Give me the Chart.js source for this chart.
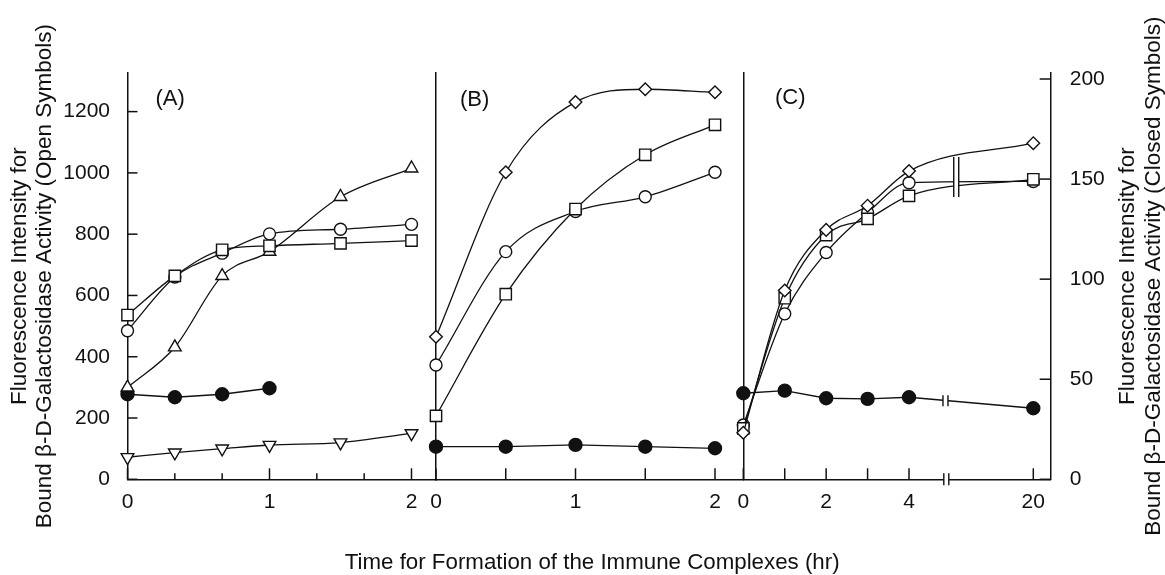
<!DOCTYPE html>
<html>
<head>
<meta charset="utf-8">
<title>Immune complex formation</title>
<script src="https://cdn.jsdelivr.net/npm/chart.js@4.4.1/dist/chart.umd.min.js"></script>
<style>
  body { margin: 0; background: #fff; }
  #wrap { position: relative; width: 1165px; height: 575px; }
  #wrap canvas { position: absolute; left: 0; top: 0; }
</style>
</head>
<body>
<div id="wrap">
  <canvas id="chartA" width="1165" height="575"></canvas>
  <canvas id="chartB" width="1165" height="575"></canvas>
  <canvas id="chartC" width="1165" height="575"></canvas>
</div>
<script>
// ---- data ----
// (A)
var hoursA = [0, 1/3, 2/3, 1, 1.5, 2];
var triangleA = [300, 431, 664, 743, 922, 1015];
var circleA = [485, 660, 738, 801, 816, 832];
var squareA = [536, 664, 749, 762, 770, 779];
var invTriangleA = [72, 87, 100, 112, 120, 150];
var closedHoursA = [0, 1/3, 2/3, 1];
var closedA = [42.5, 41, 42.5, 45.5];
// (B)
var hoursB = [0, 0.5, 1, 1.5, 2];
var diamondB = [465, 1002, 1231, 1273, 1263];
var squareB = [207, 604, 882, 1059, 1157];
var circleB = [373, 743, 874, 922, 1002];
var closedB = [16.3, 16.3, 17.2, 16.3, 15.5];
// (C)  - axis is broken between 4 and 20 hr
var hoursC = [0, 1, 2, 3, 4, 20];
var diamondC = [152, 616, 814, 893, 1006, 1097];
var squareC = [166, 591, 797, 850, 925, 979];
var circleC = [177, 540, 740, 870, 968, 972];
var closedC = [43, 44.3, 40.5, 40.2, 41, 35.5];

// ticks
var ticksA = [0, 1/3, 2/3, 1, 4/3, 5/3, 2];
var tickLabelsA = ['0', '', '', '1', '', '', '2'];
var ticksB = [0, 0.5, 1, 1.5, 2];
var tickLabelsB = ['0', '', '1', '', '2'];
var ticksC = [0, 1, 2, 3, 4, 20];
var tickLabelsC = ['0', '', '2', '', '4', '20'];
var leftTicks = [0, 200, 400, 600, 800, 1000, 1200];
var rightTicks = [0, 50, 100, 150, 200];

var leftTitle = ['Fluorescence Intensity for', 'Bound β-D-Galactosidase Activity (Open Symbols)'];
var rightTitle = ['Fluorescence Intensity for', 'Bound β-D-Galactosidase Activity (Closed Symbols)'];
var xTitle = 'Time for Formation of the Immune Complexes (hr)';

// ---- layout ----
var FONT = "'Liberation Sans', Arial, Helvetica, sans-serif";
Chart.defaults.font.family = FONT;
Chart.defaults.color = '#111';
var INK = '#111';
var TOP = 73, BOTTOM = 479.3, W = 1165, H = 575;
var A_LEFT = 127.5, B_LEFT = 436, C_LEFT = 743.3;
var LEFT_MAX = 1326, RIGHT_MAX = 203;

// broken axis for (C): 0-4 hr linear, 20 hr drawn at position 7
function cPos(h) { return h <= 4 ? h : 5 + (h - 4) / 8; }

var shapes = {
  circle:  { style: 'circle',   r: 6,   fill: '#fff' },
  square:  { style: 'rect',     r: 8,   fill: '#fff' },
  diamond: { style: 'rectRot',  r: 6.3, fill: '#fff' },
  up:      { style: 'triangle', r: 7.3, fill: '#fff' },
  down:    { style: 'triangle', r: 7.3, fill: '#fff', rot: 180 },
  closed:  { style: 'circle',   r: 6.5, fill: INK }
};

function series(xs, ys, shape, axisId) {
  var s = shapes[shape];
  return {
    data: ys.map(function(y, i) { return { x: xs[i], y: y }; }),
    yAxisID: axisId || 'y',
    borderColor: INK,
    borderWidth: 1.3,
    backgroundColor: s.fill,
    pointStyle: s.style,
    pointRadius: s.r,
    pointRotation: s.rot || 0,
    pointBorderColor: INK,
    pointBackgroundColor: s.fill,
    pointBorderWidth: 1.4,
    cubicInterpolationMode: shape === 'closed' ? 'default' : 'monotone',
    tension: 0,
    clip: false,
    fill: false
  };
}

// tick marks pointing into the plot
var inwardTicks = {
  id: 'inwardTicks',
  beforeDatasetsDraw: function(chart, args, opts) {
    var ctx = chart.ctx;
    ctx.save();
    ctx.strokeStyle = INK;
    ctx.lineWidth = 1.5;
    (opts.marks || []).forEach(function(m) {
      var s = chart.scales[m.scale];
      s.ticks.forEach(function(t) {
        var p = s.getPixelForValue(t.value);
        var len = t.label ? m.major : m.minor;
        ctx.beginPath();
        if (s.isHorizontal()) { ctx.moveTo(p, s.top); ctx.lineTo(p, s.top - len); }
        else if (s.position === 'left') { ctx.moveTo(s.right, p); ctx.lineTo(s.right + len, p); }
        else { ctx.moveTo(s.left, p); ctx.lineTo(s.left - len, p); }
        ctx.stroke();
      });
    });
    ctx.restore();
  }
};

// "||" marks for the broken time axis
var axisBreaks = {
  id: 'axisBreaks',
  afterDatasetsDraw: function(chart, args, opts) {
    var ctx = chart.ctx, xs = chart.scales.x;
    ctx.save();
    ctx.strokeStyle = INK;
    ctx.lineWidth = 1.4;
    ctx.fillStyle = '#fff';
    (opts.marks || []).forEach(function(m) {
      var px = xs.getPixelForValue(m.at);
      var top, bottom;
      if (m.scale === 'x') { top = xs.top - 6; bottom = xs.top + 6; }
      else {
        var s = chart.scales[m.scale];
        top = s.getPixelForValue(m.hi);
        bottom = s.getPixelForValue(m.lo);
      }
      ctx.fillRect(px - 2.5, top, 5, bottom - top);
      ctx.beginPath();
      ctx.moveTo(px - 2.5, top); ctx.lineTo(px - 2.5, bottom);
      ctx.moveTo(px + 2.5, top); ctx.lineTo(px + 2.5, bottom);
      ctx.stroke();
    });
    ctx.restore();
  }
};

// panel letters and the titles that cross panels
var figureText = {
  id: 'figureText',
  afterDraw: function(chart, args, opts) {
    var a = chart.chartArea, ctx = chart.ctx;
    ctx.save();
    ctx.fillStyle = INK;
    ctx.textBaseline = 'middle';
    (opts.items || []).forEach(function(it) {
      var base = it.from === 'right' ? a.right : it.from === 'mid' ? (a.left + a.right) / 2 : a.left;
      var x = base + it.dx;
      var y = it.dy === undefined ? (a.top + a.bottom) / 2 : a.top + it.dy;
      ctx.font = it.size + 'px ' + FONT;
      ctx.textAlign = it.align || 'center';
      ctx.save();
      ctx.translate(x, y);
      if (it.rotate) ctx.rotate(-Math.PI / 2);
      ctx.fillText(it.text, 0, 0);
      ctx.restore();
    });
    ctx.restore();
  }
};

function plainNumber(v) { return String(v); }

function xScale(max, tickVals, labels) {
  return {
    type: 'linear', min: 0, max: max,
    afterBuildTicks: function(s) { s.ticks = tickVals.map(function(v) { return { value: v }; }); },
    afterFit: function(s) { s.height = H - BOTTOM; s.paddingLeft = 0; s.paddingRight = 0; },
    grid: { display: false },
    border: { display: true, color: INK, width: 1.5 },
    ticks: {
      padding: 2, maxRotation: 0, autoSkip: false, font: { size: 21 },
      callback: function(v, i) { return labels[i]; }
    }
  };
}

function leftScale(showLabels, width) {
  return {
    type: 'linear', position: 'left', min: 0, max: LEFT_MAX,
    afterBuildTicks: function(s) { s.ticks = leftTicks.map(function(v) { return { value: v }; }); },
    afterFit: function(s) { s.width = width; s.paddingTop = 0; s.paddingBottom = 0; },
    grid: { display: false },
    border: { display: true, color: INK, width: 1.5 },
    ticks: { display: showLabels, padding: 9.5, font: { size: 21 }, callback: plainNumber },
    title: {
      display: showLabels, text: leftTitle,
      font: { size: 22.5, lineHeight: '25px' }, padding: { top: 7.5, bottom: 0 }
    }
  };
}

function hiddenRight() {
  return { type: 'linear', display: false, min: 0, max: RIGHT_MAX };
}

function baseOptions(padding, scales, plugins) {
  plugins.legend = { display: false };
  plugins.tooltip = { enabled: false };
  return {
    responsive: false,
    animation: false,
    events: [],
    layout: { padding: padding },
    plugins: plugins,
    scales: scales
  };
}

// ---- (A) ----
new Chart(document.getElementById('chartA'), {
  type: 'line',
  data: {
    datasets: [
      series(hoursA, squareA, 'square'),
      series(hoursA, circleA, 'circle'),
      series(hoursA, triangleA, 'up'),
      series(hoursA, invTriangleA, 'down'),
      series(closedHoursA, closedA, 'closed', 'y1')
    ]
  },
  options: baseOptions(
    { left: 0, top: TOP, right: W - B_LEFT, bottom: 0 },
    {
      x: xScale((B_LEFT - A_LEFT) / 142, ticksA, tickLabelsA),
      y: leftScale(true, A_LEFT),
      y1: hiddenRight()
    },
    {
      inwardTicks: { marks: [{ scale: 'x', major: 11, minor: 6 }, { scale: 'y', major: 10, minor: 10 }] },
      figureText: { items: [{ text: '(A)', from: 'left', dx: 28, dy: 26, size: 22, align: 'left' }] }
    }
  ),
  plugins: [inwardTicks, figureText]
});

// ---- (B) ----
new Chart(document.getElementById('chartB'), {
  type: 'line',
  data: {
    datasets: [
      series(hoursB, diamondB, 'diamond'),
      series(hoursB, squareB, 'square'),
      series(hoursB, circleB, 'circle'),
      series(hoursB, closedB, 'closed', 'y1')
    ]
  },
  options: baseOptions(
    { left: B_LEFT, top: TOP, right: W - C_LEFT, bottom: 0 },
    {
      x: xScale((C_LEFT - B_LEFT) / 139.5, ticksB, tickLabelsB),
      y: leftScale(false, 0),
      y1: hiddenRight()
    },
    {
      inwardTicks: { marks: [{ scale: 'x', major: 11, minor: 11 }] },
      figureText: {
        items: [
          { text: '(B)', from: 'left', dx: 24, dy: 27, size: 22, align: 'left' },
          { text: xTitle, from: 'mid', dx: 2.5, dy: 490, size: 22.3, align: 'center' }
        ]
      }
    }
  ),
  plugins: [inwardTicks, figureText]
});

// ---- (C) ----
new Chart(document.getElementById('chartC'), {
  type: 'line',
  data: {
    datasets: [
      series(hoursC.map(cPos), diamondC, 'diamond'),
      series(hoursC.map(cPos), squareC, 'square'),
      series(hoursC.map(cPos), circleC, 'circle'),
      series(hoursC.map(cPos), closedC, 'closed', 'y1')
    ]
  },
  options: baseOptions(
    { left: C_LEFT, top: TOP, right: 0, bottom: 0 },
    {
      x: xScale(7.42, ticksC.map(cPos), tickLabelsC),
      y: leftScale(false, 0),
      y1: {
        type: 'linear', position: 'right', min: 0, max: RIGHT_MAX,
        afterBuildTicks: function(s) { s.ticks = rightTicks.map(function(v) { return { value: v }; }); },
        afterFit: function(s) { s.width = W - 1050.7; s.paddingTop = 0; s.paddingBottom = 0; },
        grid: { display: false },
        border: { display: true, color: INK, width: 1.5 },
        ticks: { padding: 11, font: { size: 21 }, callback: plainNumber }
      }
    },
    {
      inwardTicks: { marks: [{ scale: 'x', major: 11, minor: 11 }, { scale: 'y1', major: 11, minor: 11 }] },
      axisBreaks: {
        marks: [
          { scale: 'x', at: 4.9 },
          { scale: 'y', at: 5.14, lo: 921, hi: 1052 },
          { scale: 'y1', at: 4.88, lo: 36.5, hi: 42 }
        ]
      },
      figureText: {
        items: [
          { text: '(C)', from: 'left', dx: 31.7, dy: 25, size: 22, align: 'left' },
          { text: rightTitle[0], from: 'right', dx: 77.5, size: 22.5, rotate: true },
          { text: rightTitle[1], from: 'right', dx: 103.5, size: 22.5, rotate: true }
        ]
      }
    }
  ),
  plugins: [inwardTicks, axisBreaks, figureText]
});
</script>
</body>
</html>
